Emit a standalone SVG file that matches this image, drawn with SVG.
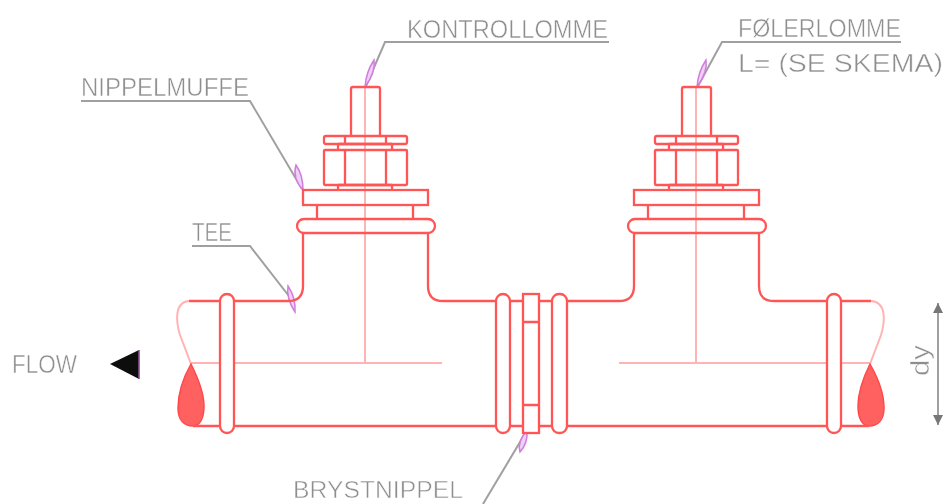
<svg xmlns="http://www.w3.org/2000/svg" width="946" height="504" viewBox="0 0 946 504">
<style>
.r{fill:none;stroke:#ff5454;stroke-width:2.3}
.rw{fill:#fff;stroke:#ff5454;stroke-width:2.3}
.c{fill:none;stroke:#ffb4b4;stroke-width:2}
.d{fill:#ff6060;stroke:#ff4a4a;stroke-width:1.5}
.l{fill:none;stroke:#a0a0a0;stroke-width:2}
.a{fill:#f0d0f4;stroke:#cf7ede;stroke-width:1.5}
text{font-family:"Liberation Sans",Arial,sans-serif;font-size:26px;fill:#8e8e8e;stroke:#fff;stroke-width:.5}
</style>
<defs>
<filter id="b" x="-2%" y="-2%" width="104%" height="104%"><feGaussianBlur stdDeviation="0.6"/></filter>
<g id="fitting">
<path class="r" d="M351 136V89q0-2 2-2h25q2 0 2 2v47"/>
<rect class="r" x="324" y="136" width="83" height="8" rx="2"/>
<path class="r" d="M345 136v8M386 136v8M338 144v6M392 144v6M338 144h54"/>
<rect class="r" x="324" y="150" width="83" height="35" rx="1"/>
<path class="r" d="M345 150v35M386 150v35M338 185v6M392 185v6M338 185h54"/>
<rect class="r" x="303" y="190" width="125" height="15"/>
<path class="r" d="M317 205v14M413 205v14"/>
<rect class="r" x="297" y="219" width="138" height="14" rx="7"/>
</g>
</defs>
<g filter="url(#b)">
<g id="connectors">
<path class="l" d="M609 42H385L366 86"/>
<path class="l" d="M901 42H722L698 86"/>
<path class="l" d="M81 101H250L302 189"/>
<path class="l" d="M192 246H250L292 300"/>
<path class="l" d="M526 432L483 504"/>
<path class="a" d="M365 87Q366 72 374 60Q376 72 365 87Z"/>
<path class="a" d="M697 87Q698 72 706 60Q708 72 697 87Z"/>
<path class="a" d="M303 190Q292 178 296 165Q303 175 303 190Z"/>
<path class="a" d="M295 312Q286 298 288 286Q296 298 295 312Z"/>
<path class="a" d="M527 431Q517 441 520 452Q528 443 527 431Z"/>
</g>
<g id="pipe-left">
<path class="c" d="M189 301C174 302 176 322 180 335L191 364"/>
<path class="c" d="M191 363H442M365 87V362"/>
<path class="d" d="M191 364C183 378 178 392 178 408C178 420 184 426 193 426C201 426 204 416 204 406C204 392 198 378 191 364Z"/>
<path class="r" d="M189 301H288Q303 301 303 286V233M428 233V286Q428 301 443 301H496M193 426H496"/>
</g>
<g id="pipe-right">
<path class="c" d="M871 301C887 302 885 322 881 335L870 364"/>
<path class="c" d="M619 363H870M696 87V362"/>
<path class="d" d="M870 364C878 378 884 392 884 408C884 420 878 426 869 426C862 426 858 418 858 406C858 392 863 378 870 364Z"/>
<path class="r" d="M567 301H619Q634 301 634 286V233M759 233V286Q759 301 774 301H871M567 426H869"/>
</g>
<g id="nippelmuffe"><use href="#fitting"/></g>
<g id="folerlomme"><use href="#fitting" transform="translate(331 0)"/></g>
<g id="tee-ring-left"><rect class="rw" x="220" y="294" width="14" height="139" rx="7"/></g>
<g id="tee-ring-right"><rect class="rw" x="827" y="294" width="14" height="139" rx="7"/></g>
<g id="brystnippel">
<path class="r" d="M510 301H523M510 426H523M539 301H552M539 426H552"/>
<rect class="rw" x="496" y="294" width="14" height="139" rx="7"/>
<rect class="rw" x="552" y="294" width="15" height="139" rx="7"/>
<rect class="rw" x="523" y="294" width="16" height="139"/>
<path class="r" d="M523 322H539M523 405H539"/>
</g>
<g id="flow-arrow">
<path d="M110 364L139 350V379Z" fill="#111"/>
<path d="M139 350V379" stroke="#8a4f8a" stroke-width="1.6" fill="none"/>
</g>
<g id="dy-dimension">
<path class="l" d="M938 303V425"/>
<path d="M938 303L933 313H943Z M938 425L933 415H943Z" fill="#777"/>
<text transform="translate(929 376) rotate(-90)" textLength="31" lengthAdjust="spacingAndGlyphs">dy</text>
</g>
<g id="labels">
<text x="407" y="38" textLength="201" lengthAdjust="spacingAndGlyphs">KONTROLLOMME</text>
<text x="738" y="37" textLength="163" lengthAdjust="spacingAndGlyphs">FØLERLOMME</text>
<text x="738" y="72" textLength="205" lengthAdjust="spacingAndGlyphs">L= (SE SKEMA)</text>
<text x="81" y="96" textLength="168" lengthAdjust="spacingAndGlyphs">NIPPELMUFFE</text>
<text x="192" y="241" textLength="40" lengthAdjust="spacingAndGlyphs">TEE</text>
<text x="12" y="373" textLength="65" lengthAdjust="spacingAndGlyphs">FLOW</text>
<text x="293" y="498" textLength="170" lengthAdjust="spacingAndGlyphs" style="font-size:23px">BRYSTNIPPEL</text>
</g>
</g>
</svg>
